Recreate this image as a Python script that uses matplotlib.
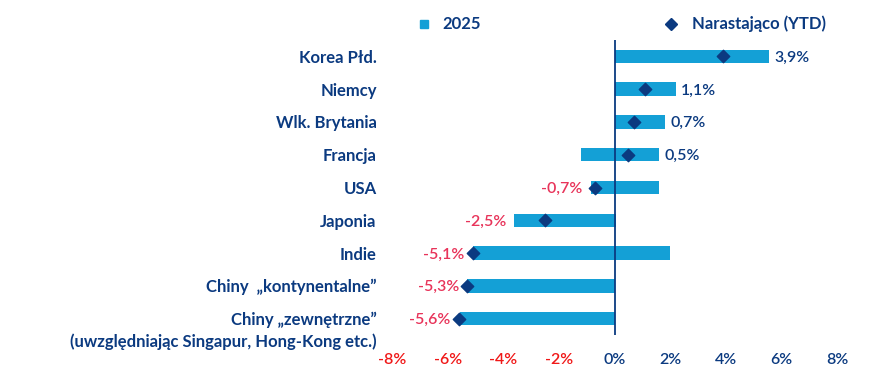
import matplotlib.pyplot as plt
from matplotlib.lines import Line2D

plt.rcParams['font.family'] = ['Lato', 'DejaVu Sans']

categories = ["Korea Płd.", "Niemcy", "Wlk. Brytania", "Francja", "USA",
              "Japonia", "Indie", "Chiny  „kontynentalne”", "Chiny „zewnętrzne”"]
subnote = "(uwzględniając Singapur, Hong-Kong etc.)"
low_2025 = [0, 0, 0, -1.2, -0.85, -3.6, -5.1, -5.3, -5.55]
high_2025 = [5.55, 2.2, 1.8, 1.6, 1.6, 0.05, 2.0, 0, 0]
ytd = [3.9, 1.1, 0.7, 0.5, -0.7, -2.5, -5.1, -5.3, -5.6]
xticks = [-8, -6, -4, -2, 0, 2, 4, 6, 8]

NAVY = "#0b3a80"
BLUE = "#14a0d6"
PINK = "#e8345a"
RED = "#f01818"

fig = plt.figure(figsize=(8.9, 3.78), dpi=100)
ax = fig.add_axes([392 / 890, 1 - 335 / 378, 445 / 890, 295 / 378])

ypos = list(range(len(categories)))
widths = [h - l for l, h in zip(low_2025, high_2025)]
ax.barh(ypos, widths, left=low_2025, height=0.41, color=BLUE, zorder=2)
ax.scatter(ytd, ypos, marker="D", s=40, color=NAVY, zorder=4)
ax.axvline(0, color=NAVY, lw=1.3, zorder=3)

for y, v, l, h in zip(ypos, ytd, low_2025, high_2025):
    txt = "{0:.1f}%".format(v).replace(".", ",")
    if v >= 0:
        ax.annotate(txt, (max(h, v), y), xytext=(4, -1), textcoords="offset points",
                    ha="left", va="center", color=NAVY, fontsize=11.5,
                    fontweight="semibold")
    else:
        ax.annotate(txt, (min(l, v), y), xytext=(-6, -1), textcoords="offset points",
                    ha="right", va="center", color=PINK, fontsize=11.5,
                    fontweight="semibold")

ax.set_xlim(-8, 8)
ax.set_ylim(len(categories) - 0.5, -0.5)
ax.set_xticks(xticks)
ax.set_xticklabels(["{0}%".format(t) for t in xticks], fontsize=11.5,
                   fontweight="semibold")
for lab, t in zip(ax.get_xticklabels(), xticks):
    lab.set_color(RED if t < 0 else NAVY)
ax.set_yticks(ypos)
ax.set_yticklabels(categories, fontsize=12, fontweight="bold", color=NAVY)
ax.tick_params(axis="both", length=0)
ax.tick_params(axis="x", pad=13)
ax.tick_params(axis="y", pad=11)
ax.annotate(subnote, (0, len(categories) - 1), xycoords=("axes fraction", "data"),
            xytext=(-11, -16.5), textcoords="offset points", ha="right", va="center",
            fontsize=12, fontweight="bold", color=NAVY)
for s in ax.spines.values():
    s.set_visible(False)

# legend
fig.add_artist(Line2D([424 / 890], [1 - 24 / 378], marker="s", markersize=6,
                      color=BLUE, lw=0))
fig.text(442 / 890, 1 - 24 / 378, "2025", ha="left", va="center",
         fontsize=12, fontweight="bold", color=NAVY)
fig.add_artist(Line2D([671 / 890], [1 - 24 / 378], marker="D", markersize=6,
                      color=NAVY, lw=0))
fig.text(692 / 890, 1 - 24 / 378, "Narastająco (YTD)", ha="left", va="center",
         fontsize=12, fontweight="bold", color=NAVY)

fig.savefig("out.png", dpi=100)
